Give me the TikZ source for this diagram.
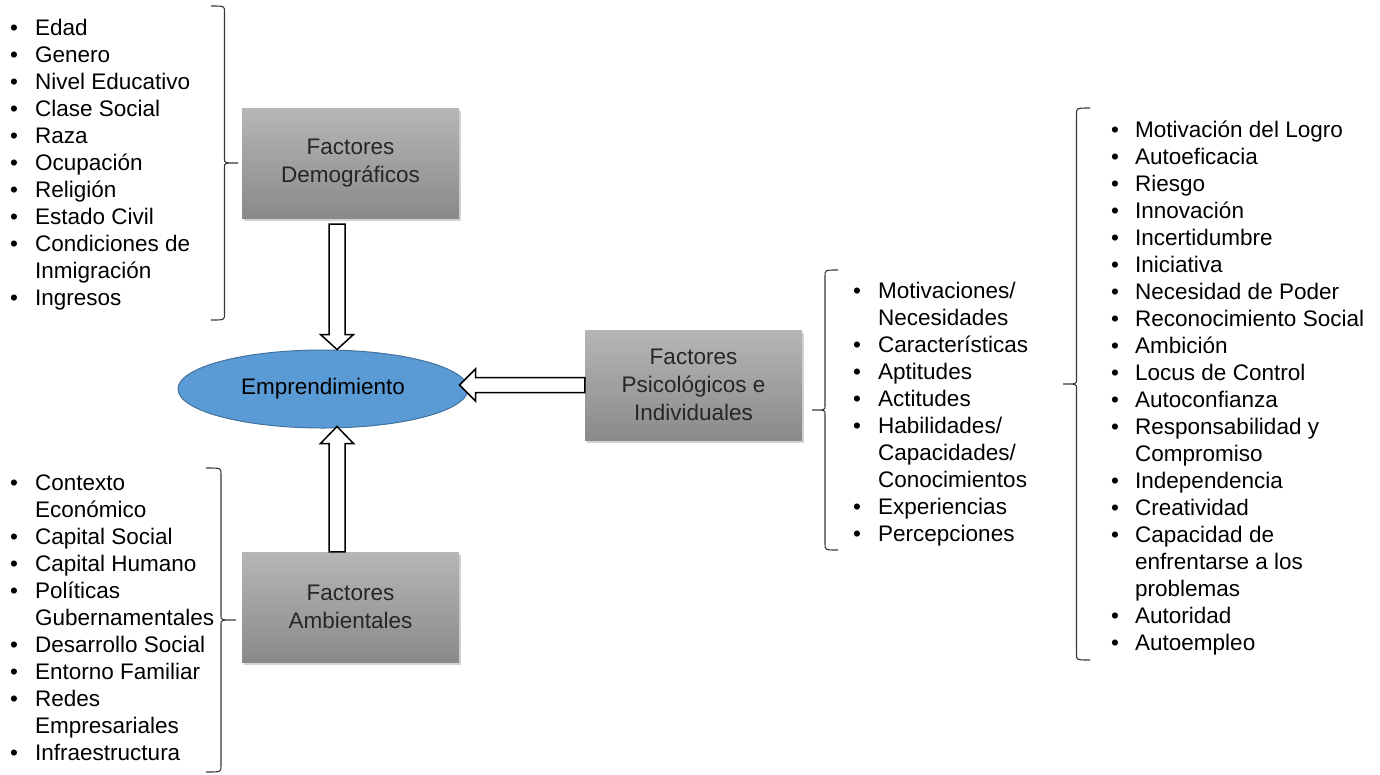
\documentclass[tikz,border=0pt]{standalone}
\usepackage{fontspec}
\setmainfont{Liberation Sans}
\usetikzlibrary{shapes.geometric,shadows,calc}

\definecolor{cajaarriba}{RGB}{182,182,182}
\definecolor{cajaabajo}{RGB}{138,138,138}
\definecolor{azulemp}{RGB}{91,155,213}
\definecolor{bordeemp}{RGB}{65,113,156}
\definecolor{llave}{RGB}{55,55,55}

\newcommand{\letra}{\fontsize{22.5}{27}\selectfont}

% llave: x de los extremos, y arriba, y abajo, ancho (+ derecha, - izquierda)
\newcommand{\llave}[4]{%
  \pgfmathsetmacro{\lm}{(#2+#3)/2}%
  \pgfmathsetmacro{\lv}{#1+#4/2}%
  \pgfmathsetmacro{\lp}{#1+#4}%
  \draw[llaves] (#1,#2) .. controls (\lv,#2) .. (\lv,#2+6) -- (\lv,\lm-4)
    .. controls (\lv,\lm) .. (\lp,\lm) .. controls (\lv,\lm) .. (\lv,\lm+4)
    -- (\lv,#3-6) .. controls (\lv,#3) .. (#1,#3);}

\tikzset{
  factor/.style={rectangle, minimum width=217pt, minimum height=110pt,
    top color=cajaarriba, bottom color=cajaabajo, draw=none, align=center,
    text=black!85, font=\fontsize{22.5}{28}\selectfont,
    drop shadow={shadow xshift=2pt, shadow yshift=-3pt, opacity=0.35}},
  lista/.style={anchor=north west, inner sep=0pt, font=\letra},
  flecha/.style={draw=black, fill=white, line width=1.5pt, line join=miter},
  llaves/.style={draw=llave, line width=1.1pt}
}

\begin{document}
\begin{tikzpicture}[x=1pt, y=-1pt]
\useasboundingbox (0,0) rectangle (1380,774);

% Factores
\node[factor] (dem) at (350.5,163) {Factores\\Demográficos};
\node[factor] (psi) at (693.5,385) {Factores\\Psicológicos e\\Individuales};
\node[factor] (amb) at (350.5,607) {Factores\\Ambientales};

% Emprendimiento
\node[ellipse, minimum width=290pt, minimum height=78pt, inner sep=0pt,
  fill=azulemp, draw=bordeemp, line width=1pt, font=\letra] (emp) at (323,389) {Emprendimiento};

% Flechas
\coordinate (d1) at ($(dem.south)+(-13.5,6)$);
\coordinate (d2) at ($(emp.north)+(14,0)$);
\draw[flecha] ($(d1)+(-8,0)$) -- ($(d2)+(-8,-15)$) -- ($(d2)+(-16.5,-15)$) -- (d2)
  -- ($(d2)+(16.5,-15)$) -- ($(d2)+(8,-15)$) -- ($(d1)+(8,0)$) -- cycle;

\coordinate (u1) at ($(amb.north)+(-13.5,0)$);
\coordinate (u2) at ($(emp.south)+(14,-2)$);
\draw[flecha] ($(u1)+(-8,0)$) -- ($(u2)+(-8,17)$) -- ($(u2)+(-16.5,17)$) -- (u2)
  -- ($(u2)+(16.5,17)$) -- ($(u2)+(8,17)$) -- ($(u1)+(8,0)$) -- cycle;

\coordinate (l1) at (psi.west);
\coordinate (l2) at ($(psi.west -| emp.east)+(-9,0)$);
\draw[flecha] ($(l1)+(0,-7.5)$) -- ($(l2)+(16,-7.5)$) -- ($(l2)+(16,-16)$) -- (l2)
  -- ($(l2)+(16,16)$) -- ($(l2)+(16,7.5)$) -- ($(l1)+(0,7.5)$) -- cycle;

% Listas
\node[lista] (demlista) at (10,16.3) {\begin{tabular}{@{}p{25pt}@{}l@{}}
\textbullet & Edad\\
\textbullet & Genero\\
\textbullet & Nivel Educativo\\
\textbullet & Clase Social\\
\textbullet & Raza\\
\textbullet & Ocupación\\
\textbullet & Religión\\
\textbullet & Estado Civil\\
\textbullet & Condiciones de\\
 & Inmigración\\
\textbullet & Ingresos
\end{tabular}};

\node[lista] (amblista) at (10,471.3) {\begin{tabular}{@{}p{25pt}@{}l@{}}
\textbullet & Contexto\\
 & Económico\\
\textbullet & Capital Social\\
\textbullet & Capital Humano\\
\textbullet & Políticas\\
 & Gubernamentales\\
\textbullet & Desarrollo Social\\
\textbullet & Entorno Familiar\\
\textbullet & Redes\\
 & Empresariales\\
\textbullet & Infraestructura
\end{tabular}};

\node[lista] (psilista) at (853,279.3) {\begin{tabular}{@{}p{25pt}@{}l@{}}
\textbullet & Motivaciones/\\
 & Necesidades\\
\textbullet & Características\\
\textbullet & Aptitudes\\
\textbullet & Actitudes\\
\textbullet & Habilidades/\\
 & Capacidades/\\
 & Conocimientos\\
\textbullet & Experiencias\\
\textbullet & Percepciones
\end{tabular}};

\node[lista] (rasgos) at (1111,118.3) {\begin{tabular}{@{}p{24pt}@{}l@{}}
\textbullet & Motivación del Logro\\
\textbullet & Autoeficacia\\
\textbullet & Riesgo\\
\textbullet & Innovación\\
\textbullet & Incertidumbre\\
\textbullet & Iniciativa\\
\textbullet & Necesidad de Poder\\
\textbullet & Reconocimiento Social\\
\textbullet & Ambición\\
\textbullet & Locus de Control\\
\textbullet & Autoconfianza\\
\textbullet & Responsabilidad y\\
 & Compromiso\\
\textbullet & Independencia\\
\textbullet & Creatividad\\
\textbullet & Capacidad de\\
 & enfrentarse a los\\
 & problemas\\
\textbullet & Autoridad\\
\textbullet & Autoempleo
\end{tabular}};

% Llaves
\llave{211}{6}{320}{27}
\llave{206}{468}{772}{30}
\llave{838}{270}{550}{-26}
\llave{1090}{108}{660}{-27}

\end{tikzpicture}
\end{document}
